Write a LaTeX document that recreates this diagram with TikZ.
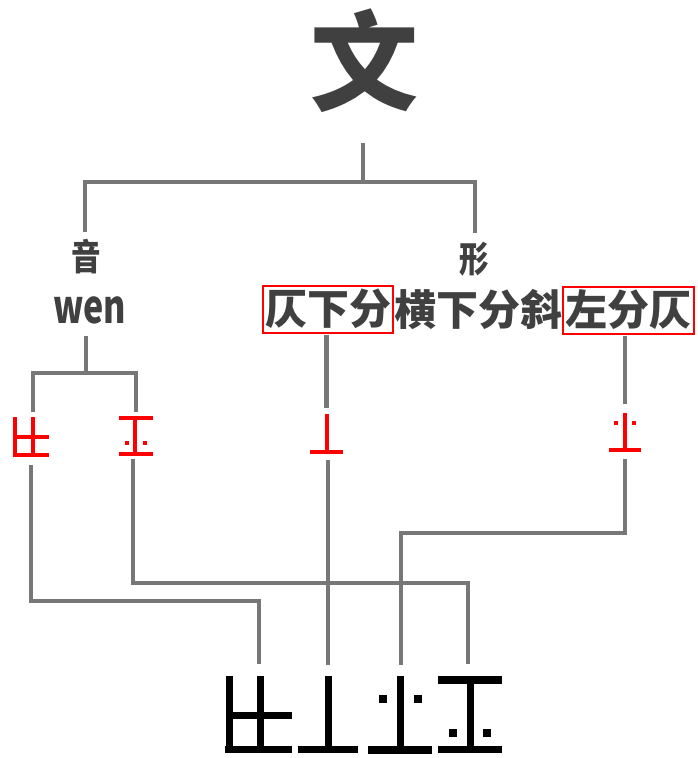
\documentclass[tikz,border=0pt]{standalone}
\usepackage{fontspec}
\usepackage{graphicx}
\usetikzlibrary{calc}
\newfontfamily\cjk{Noto Sans CJK SC}
\definecolor{tc}{RGB}{64,64,64}
\definecolor{lc}{RGB}{119,119,119}
\definecolor{rc}{RGB}{255,0,0}
\tikzset{
  gl/.style={draw=lc, line width=4.5pt},
  txt/.style={inner sep=0pt, text=tc, font=\cjk\bfseries},
  rbox/.style={draw=rc, line width=2pt, inner sep=0pt, minimum height=47pt, text=tc, font=\cjk\bfseries\fontsize{42}{42}\selectfont},
  gbox/.style={draw=none, inner sep=0pt}
}
\begin{document}
\begin{tikzpicture}[x=1pt,y=-1pt]
\useasboundingbox[fill=white] (0,0) rectangle (697,758);

% ---------- text nodes ----------
\node[txt, font=\cjk\bfseries\fontsize{108}{108}\selectfont] (top) at (364,61) {文};
\node[txt, font=\cjk\bfseries\fontsize{36}{36}\selectfont] (yin) at (86,257) {\scalebox{0.82}[1]{音}};
\node[txt, font=\cjk\bfseries\fontsize{36}{36}\selectfont] (xing) at (474,259) {\scalebox{0.82}[1]{形}};
\node[txt, font=\cjk\bfseries\fontsize{46}{46}\selectfont] (wen) at (89.5,310.5) {\scalebox{0.74}[1]{wen}};
\node[rbox, minimum width=130pt] (b1) at (328,309) {仄下分};
\node[txt, font=\cjk\bfseries\fontsize{42}{42}\selectfont] (mid) at (478,309) {横下分斜};
\node[rbox, minimum width=131pt] (b2) at (628.5,310) {左分仄};

% ---------- glyph boxes (named, invisible) ----------
\node[gbox, minimum width=34pt, minimum height=39pt] (g1) at (32,436.5) {};
\node[gbox, minimum width=34pt, minimum height=38pt] (g2) at (136,436) {};
\node[gbox, minimum width=33pt, minimum height=40pt] (g3) at (326.5,434) {};
\node[gbox, minimum width=32pt, minimum height=39pt] (g4) at (625,431.5) {};
\node[gbox, minimum width=68pt, minimum height=78pt] (A) at (259,715) {};
\node[gbox, minimum width=60pt, minimum height=78pt] (B) at (328,715) {};
\node[gbox, minimum width=64pt, minimum height=78pt] (C) at (400.5,715) {};
\node[gbox, minimum width=64pt, minimum height=78pt] (D) at (470,715) {};

% ---------- red glyphs ----------
\begin{scope}[fill=rc]
  % g1
  \fill (13.4,417) rectangle (16.6,456.5);
  \fill (31.4,417) rectangle (34.6,456.5);
  \fill (13.4,435.4) rectangle (49,438.6);
  \fill (13.4,453.4) rectangle (49,456.6);
  % g2
  \fill (119,416.4) rectangle (153,419.6);
  \fill (133.4,416.4) rectangle (136.6,455.6);
  \fill (119,452.4) rectangle (153,455.6);
  \fill (125,441) rectangle (129,445);
  \fill (143,441) rectangle (147,445);
  % g3
  \fill (325.4,414) rectangle (328.6,453.6);
  \fill (310,450.4) rectangle (343,453.6);
  % g4
  \fill (623.4,413) rectangle (626.6,451.6);
  \fill (609,448.4) rectangle (641,451.6);
  \fill (614,421) rectangle (618,425);
  \fill (632,421) rectangle (636,425);
\end{scope}

% ---------- black glyphs ----------
\begin{scope}[fill=black]
  % A
  \fill (226,676) rectangle (233,753);
  \fill (256.5,676) rectangle (263.5,753);
  \fill (226,711.5) rectangle (292,718.5);
  \fill (225,746) rectangle (292,753);
  % B
  \fill (325,676) rectangle (332,753);
  \fill (298,746) rectangle (358,753);
  % C
  \fill (397,676) rectangle (404,753);
  \fill (368,746) rectangle (432,753.5);
  \fill (378.5,694.5) rectangle (386.5,702.5);
  \fill (413.5,694.5) rectangle (421.5,702.5);
  % D
  \fill (438,676) rectangle (502,684);
  \fill (467,676) rectangle (474,753);
  \fill (438,746) rectangle (502,753);
  \fill (448.5,729) rectangle (456.5,737);
  \fill (483,729) rectangle (491,737);
\end{scope}

% ---------- connectors ----------
\coordinate (tj) at (363,182);
\coordinate (wj) at (86,373);
\draw[gl] ($(tj |- top.south)+(0,30)$) -- (tj);
\draw[gl] ($(yin.north)+(-1,-7)$) |- (tj) -| ($(xing.north)+(1,-9)$);
\draw[gl] ($(wj |- wen.south)+(0,12)$) -- (wj);
\draw[gl] ($(g1.north)+(1,-5)$) |- (wj) -| ($(g2.north)+(0,-5)$);
\draw[gl] ($(g3.north |- b1.south)+(0,1)$) -- ($(g3.north)+(0,-6)$);
\draw[gl] ($(g4.north |- b2.south)+(0,1)$) -- ($(g4.north)+(0,-8)$);

\coordinate (k1) at (259,601);
\coordinate (k2) at (468,583);
\coordinate (k4) at (401,533);
\draw[gl] ($(g1.south)+(-1,9)$) |- (k1) -- ($(A.north)+(0,-12)$);
\draw[gl] ($(g2.south)+(-3,4)$) |- (k2) -- ($(D.north)+(-2,-12)$);
\draw[gl] ($(g3.south)+(1.5,6)$) -- ($(B.north)+(0,-11)$);
\draw[gl] ($(g4.south)+(0,8)$) |- (k4) -- ($(C.north)+(0.5,-11)$);
\end{tikzpicture}
\end{document}
